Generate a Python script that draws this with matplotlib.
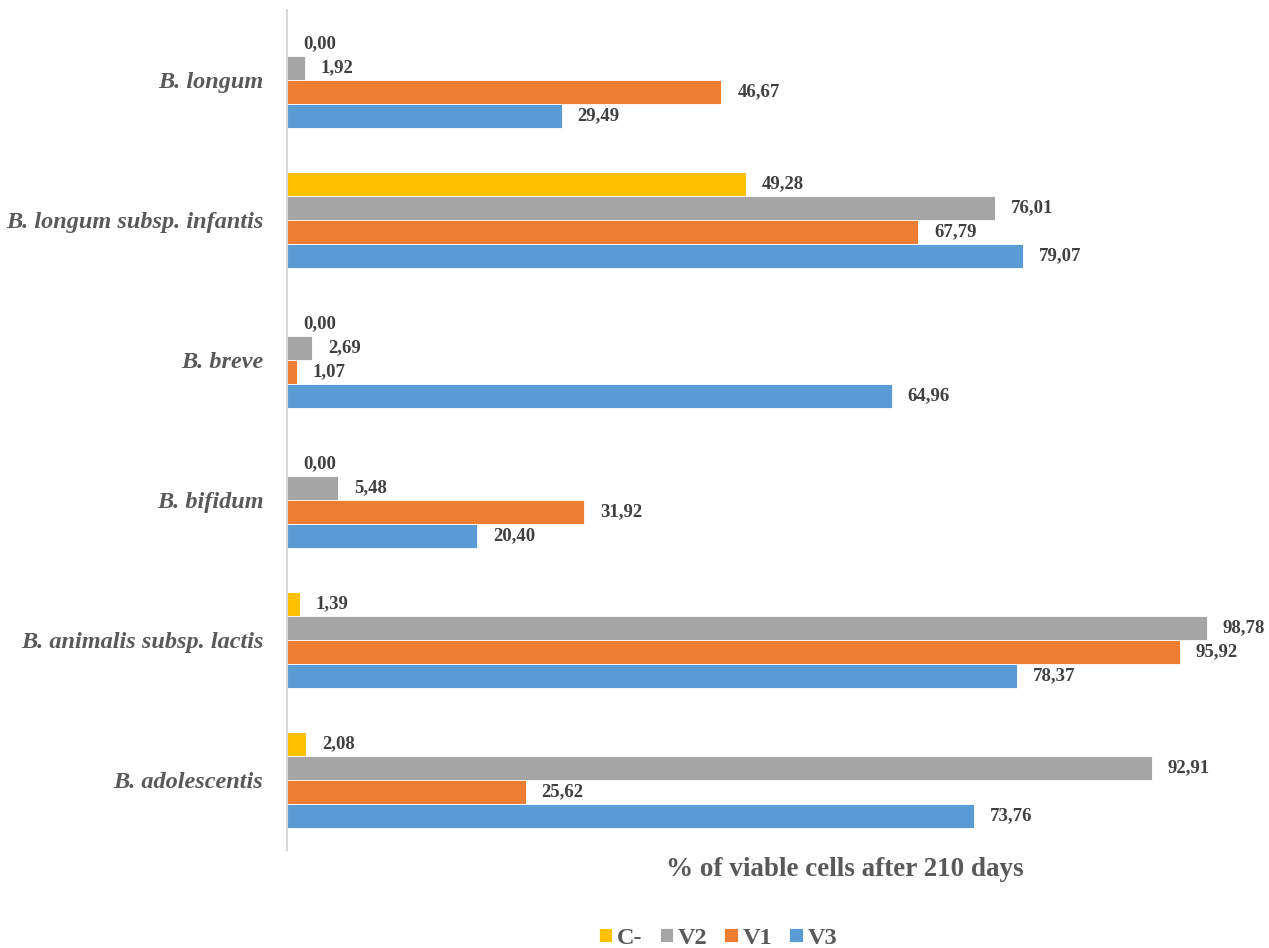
import matplotlib.pyplot as plt
import numpy as np

plt.rcParams['font.family'] = ['Liberation Serif', 'DejaVu Serif']

# categories bottom -> top
species = ["B. adolescentis", "B. animalis subsp. lactis", "B. bifidum",
           "B. breve", "B. longum subsp. infantis", "B. longum"]
series = ["C-", "V2", "V1", "V3"]
c_minus = [2.08, 1.39, 0.00, 0.00, 49.28, 0.00]
v2 = [92.91, 98.78, 5.48, 2.69, 76.01, 1.92]
v1 = [25.62, 95.92, 31.92, 1.07, 67.79, 46.67]
v3 = [73.76, 78.37, 20.40, 64.96, 79.07, 29.49]
colors = ["#FFC000", "#A5A5A5", "#ED7D31", "#5B9BD5"]

fig = plt.figure(figsize=(12.69, 9.48), dpi=100)
ax = fig.add_axes([287 / 1269, 98 / 948, 931 / 1269, 840 / 948])

y = np.arange(len(species))
h = 0.171
offsets = [1.5 * h, 0.5 * h, -0.5 * h, -1.5 * h]

for vals, name, col, off in zip([c_minus, v2, v1, v3], series, colors, offsets):
    bars = ax.barh(y + off, vals, height=h, color=col, label=name,
                   edgecolor="white", linewidth=0.6)
    for yi, v in zip(y, vals):
        ax.annotate(f"{v:.2f}".replace(".", ","), (v, yi + off),
                    xytext=(11.5, 0), textcoords="offset points",
                    ha="left", va="center", fontsize=13.5, fontweight="bold",
                    color="#404040", annotation_clip=False)

ax.set_xlim(0, 100)
ax.set_ylim(-0.5, 5.5)
ax.set_yticks(y)
ax.set_yticklabels(species, fontsize=17.5, fontweight="bold", style="italic",
                   color="#595959")
ax.tick_params(axis="y", length=0, pad=17)
ax.set_xticks([])
for s in ["top", "right", "bottom"]:
    ax.spines[s].set_visible(False)
ax.spines["left"].set_color("#D9D9D9")
ax.spines["left"].set_linewidth(1.5)

fig.text(845 / 1269, 1 - 870 / 948, "% of viable cells after 210 days",
         ha="center", va="center", fontsize=19.5, fontweight="bold", color="#595959")

handles, labels = ax.get_legend_handles_labels()
fig.legend(handles, labels, loc="center", bbox_to_anchor=(718 / 1269, 1 - 938 / 948),
           ncol=4, frameon=False, handlelength=0.55, handleheight=0.55,
           handletextpad=0.2, columnspacing=0.7,
           prop={"size": 17.5, "weight": "bold"}, labelcolor="#595959")

fig.savefig("out.png", dpi=100, facecolor="white")
